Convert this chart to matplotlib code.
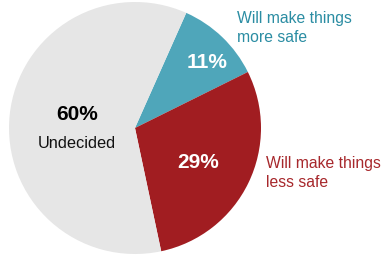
import matplotlib
matplotlib.use("Agg")
import matplotlib.pyplot as plt

labels = ["Will make things\nmore safe", "Will make things\nless safe", "Undecided"]
values = [11, 29, 60]
colors = ["#4FA6BA", "#A11D21", "#E6E6E6"]
pct_colors = ["white", "white", "black"]
text_colors = ["#2B8DA3", "#A7282C", "#111111"]

plt.rcParams['font.family'] = ['Liberation Sans', 'DejaVu Sans']

fig = plt.figure(figsize=(3.81, 2.58), dpi=100)
W, H = 381, 258
cx, cy, r = 135, 128, 126
ax = fig.add_axes([(cx - r) / W, (H - cy - r) / H, 2 * r / W, 2 * r / H])

def px(x, y):
    return ((x - cx) / r, (cy - y) / r)

ax.pie(values, colors=colors, startangle=66, counterclock=False,
       wedgeprops=dict(linewidth=0))
ax.set_xlim(-1, 1)
ax.set_ylim(-1, 1)
ax.set_aspect('equal')
ax.axis('off')

# percentage labels
pct_pos = [(207, 63), (198, 163), (77, 115)]
for v, (x, y), c in zip(values, pct_pos, pct_colors):
    ax.text(*px(x, y), f"{v}%", color=c, fontsize=15, fontweight='bold',
            ha='center', va='center')

lab_fs = 11.3
ax.text(*px(77, 143), labels[2], color=text_colors[2], fontsize=lab_fs + 0.5,
        ha='center', va='center')
ax.text(*px(237, 28), labels[0], color=text_colors[0], fontsize=lab_fs,
        ha='left', va='center', linespacing=1.3, clip_on=False)
ax.text(*px(266, 173), labels[1], color=text_colors[1], fontsize=lab_fs,
        ha='left', va='center', linespacing=1.3, clip_on=False)

fig.savefig("out.png", dpi=100)
